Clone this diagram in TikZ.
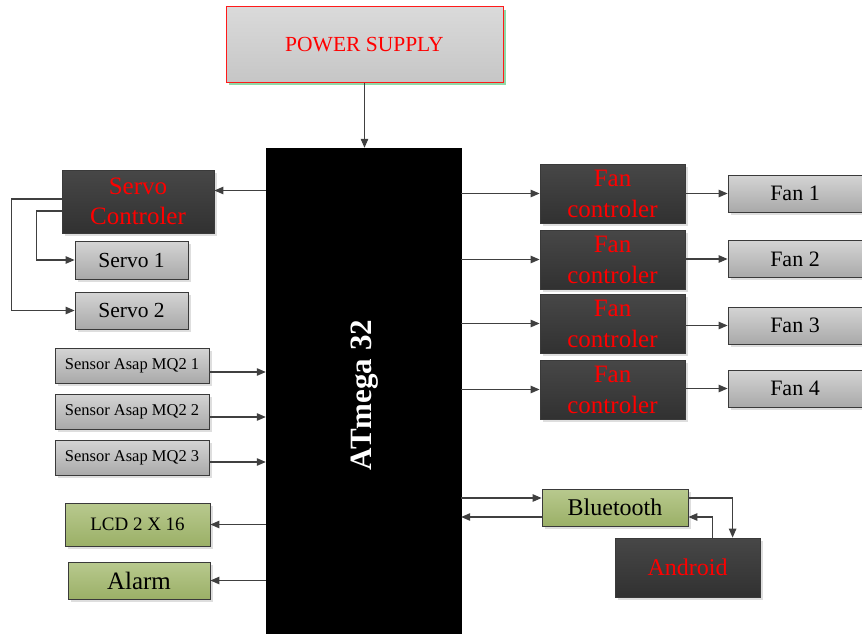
\documentclass[tikz,border=0pt]{standalone}
\usepackage{fontspec}
\setmainfont{Liberation Serif}
\usetikzlibrary{arrows.meta,shadows,calc}
\definecolor{lineg}{HTML}{404040}
\definecolor{borderg}{HTML}{3A3A3A}
\definecolor{gtop}{HTML}{D4D4D4}
\definecolor{gbot}{HTML}{A9A9A9}
\definecolor{ptop}{HTML}{DADADA}
\definecolor{pbot}{HTML}{C6C6C6}
\definecolor{grtop}{HTML}{B8C98E}
\definecolor{grbot}{HTML}{9BB067}
\definecolor{dtop}{HTML}{474747}
\definecolor{dbot}{HTML}{313131}
\definecolor{psred}{HTML}{FF1A1A}
\definecolor{psshadow}{HTML}{8FD9A8}
\begin{document}
\begin{tikzpicture}[x=1pt,y=-1pt,
  arr/.style={draw=lineg, line width=1.1pt, -{Triangle[length=9pt,width=7.5pt]}},
  ln/.style={draw=lineg, line width=1.1pt},
  base/.style={draw=borderg, line width=0.8pt, inner sep=0pt, align=center,
    drop shadow={shadow xshift=2.5pt, shadow yshift=-2.5pt, fill=black!13, opacity=1}},
  graybox/.style={base, top color=gtop, bottom color=gbot},
  greenbox/.style={base, top color=grtop, bottom color=grbot},
  darkbox/.style={base, top color=dtop, bottom color=dbot, text=red},
  sz/.style args={#1/#2/#3/#4}{minimum width=#1pt, minimum height=#2pt, font=\fontsize{#3}{#4}\selectfont},
]
\useasboundingbox (0,0) rectangle (862,634);
% power supply
\node[draw=psred, line width=1pt, top color=ptop, bottom color=pbot, text=red, inner sep=0pt,
  drop shadow={shadow xshift=3pt, shadow yshift=-3pt, fill=psshadow, opacity=1},
  sz=277/75/21.5/24] (ps) at (364.5,44.5) {POWER SUPPLY};
% microcontroller
\node[fill=black, draw=black, inner sep=0pt, minimum width=195pt, minimum height=490pt] (mcu) at (363.5,393) {};
\node[text=white, rotate=90, font=\fontsize{31}{34}\selectfont\bfseries] (mcut) at (365,395) {ATmega 32};
\draw[arr] (ps.south) -- (ps.south |- mcu.north);
% servo
\node[darkbox, sz=152/63/25/30] (sc) at (138,201.5) {Servo\\Controler};
\node[graybox, sz=113/38/21.5/24] (s1) at (131.5,260) {Servo 1};
\node[graybox, sz=113/37/21.5/24] (s2) at (131.5,310.5) {Servo 2};
\draw[arr] ([yshift=11pt]sc.east -| mcu.west) -- ([yshift=11pt]sc.east);
\draw[arr] ([yshift=-9.5pt]sc.west) -- ++(-25,0) |- (s1.west);
\draw[arr] ([yshift=2.5pt]sc.west) -- ++(-50,0) |- (s2.west);
% sensors
\node[graybox, sz=154/35/16.5/19] (m1) at (132,365.5) {Sensor Asap MQ2 1};
\node[graybox, sz=154/35/16.5/19] (m2) at (132,411.5) {Sensor Asap MQ2 2};
\node[graybox, sz=154/35/16.5/19] (m3) at (132,458) {Sensor Asap MQ2 3};
\draw[arr] ([yshift=-6.5pt]m1.east) -- ([yshift=-6.5pt]m1.east -| mcu.west);
\draw[arr] ([yshift=-5.5pt]m2.east) -- ([yshift=-5.5pt]m2.east -| mcu.west);
\draw[arr] ([yshift=-4pt]m3.east) -- ([yshift=-4pt]m3.east -| mcu.west);
% outputs left
\node[greenbox, sz=145/43/19/22] (lcd) at (137.5,524.5) {LCD 2 X 16};
\node[greenbox, sz=142/37/25/28] (al) at (139,580.5) {Alarm};
\draw[arr] (lcd.east -| mcu.west) -- (lcd.east);
\draw[arr] (al.east -| mcu.west) -- (al.east);
% fans
\foreach \i/\y/\fy in {1/193.5/193.5, 2/259.5/259, 3/323.5/325.5, 4/389.5/388.5}{
  \node[darkbox, sz=145/59/25/31] (fc\i) at (612.5,\y) {Fan\\controler};
  \node[graybox, sz=134/37/22/24] (f\i) at (795,\fy) {Fan \i};
  \draw[arr] (fc\i.west -| mcu.east) -- (fc\i.west);
  \draw[arr] (fc\i.east |- f\i.west) -- (f\i.west);
}
% bluetooth
\node[greenbox, sz=146/37/24/27] (bt) at (615,507.5) {Bluetooth};
\node[darkbox, sz=145/59/24/27] (an) at (687.5,567.5) {Android};
\draw[arr] ([yshift=9.5pt]bt.west -| mcu.east) -- ([yshift=9.5pt]bt.west);
\draw[arr] ([yshift=-9.5pt]bt.west) -- ([yshift=-9.5pt]bt.west -| mcu.east);
\draw[arr] ([yshift=9.5pt]bt.east) -| ([xshift=118pt]an.north west);
\draw[arr] ([xshift=98pt]an.north west) |- ([yshift=-9.5pt]bt.east);
\end{tikzpicture}
\end{document}
